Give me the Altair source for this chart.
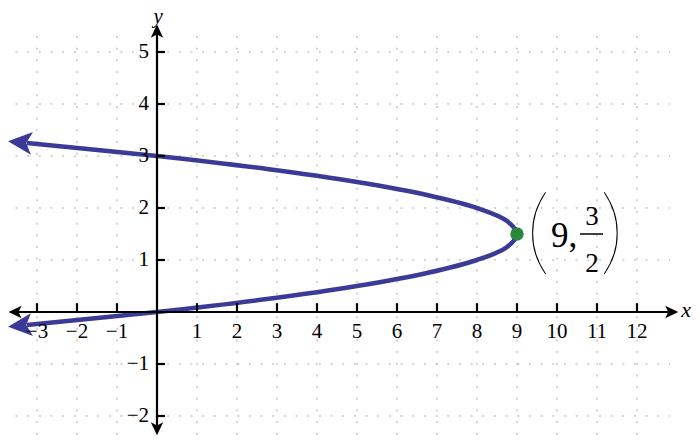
import altair as alt
import pandas as pd

# ---- data ----
# parabola x = -4y^2 + 12y
curve_y = [-0.25, 0, 0.25, 0.5, 0.75, 1, 1.25, 1.5, 1.75, 2, 2.25, 2.5, 2.75, 3, 3.25]
curve_x = [-3.25, 0, 2.75, 5, 6.75, 8, 8.75, 9, 8.75, 8, 6.75, 5, 2.75, 0, -3.25]
# arrow heads at the two ends of the curve
curve_arrow_x = [-3.41, -3.41]
curve_arrow_y = [3.261, -0.261]
curve_arrow_angle = [5.2, 354.8]
# vertex
vertex_x = [9]
vertex_y = [1.5]
# grid / ticks
grid_x = [-3, -2, -1, 1, 2, 3, 4, 5, 6, 7, 8, 9, 10, 11, 12]
grid_y = [-2, -1, 1, 2, 3, 4, 5]
x_tick_labels = ["−3", "−2", "−1", "1", "2", "3", "4", "5", "6", "7", "8", "9", "10", "11", "12"]
y_tick_labels = ["−2", "−1", "1", "2", "3", "4", "5"]
# axis arrows
axis_arrow_x = [12.86, -3.54, 0, 0]
axis_arrow_y = [0, 0, 5.394, -2.24]
axis_arrow_angle = [180, 0, 90, 270]

X_DOMAIN = [-3.725, 13.375]
Y_DOMAIN = [-2.42308, 5.84615]

xs = alt.Scale(domain=X_DOMAIN, nice=False, zero=False)
ys = alt.Scale(domain=Y_DOMAIN, nice=False, zero=False)
FONT = "'Liberation Serif', 'Times New Roman', Times, serif"
PAREN_FONT = "Lato, 'Liberation Serif', serif"
ARROW = "M -1 0 L 0.9 -0.9 L 0.45 0 L 0.9 0.9 Z"
CURVE_COLOR = "#3b3b97"


def X(f):
    return alt.X(f, type="quantitative", scale=xs, axis=None)


def Y(f):
    return alt.Y(f, type="quantitative", scale=ys, axis=None)


# grid
vgrid_df = pd.DataFrame({"x": grid_x, "y1": [5.308] * len(grid_x), "y2": [-2.6] * len(grid_x)})
hgrid_df = pd.DataFrame({"y": grid_y, "x1": [-3.83] * len(grid_y), "x2": [12.825] * len(grid_y)})
vgrid = alt.Chart(vgrid_df).mark_rule(color="#a8a8a8", strokeWidth=1, strokeDash=[2, 9.67]).encode(
    x=X("x"), y=Y("y1"), y2="y2")
hgrid = alt.Chart(hgrid_df).mark_rule(color="#a8a8a8", strokeWidth=1, strokeDash=[2, 9.67]).encode(
    y=Y("y"), x=X("x1"), x2="x2")

# curve
curve_df = pd.DataFrame({"x": curve_x, "y": curve_y, "i": list(range(len(curve_x)))})
curve = alt.Chart(curve_df).mark_line(color=CURVE_COLOR, strokeWidth=4.5, interpolate="catmull-rom",
                                      strokeCap="butt").encode(
    x=X("x"), y=Y("y"), order="i:Q")
carrow_df = pd.DataFrame({"x": curve_arrow_x, "y": curve_arrow_y, "a": curve_arrow_angle})
carrows = alt.Chart(carrow_df).mark_point(shape=ARROW, filled=True, color=CURVE_COLOR, size=640,
                                          opacity=1, strokeWidth=0).encode(
    x=X("x"), y=Y("y"), angle=alt.Angle("a:Q", scale=None))

# axes
xaxis_df = pd.DataFrame({"x1": [-3.5], "x2": [12.85], "y": [0]})
yaxis_df = pd.DataFrame({"y1": [-2.25], "y2": [5.38], "x": [0]})
xaxis = alt.Chart(xaxis_df).mark_rule(color="black", strokeWidth=2.2).encode(x=X("x1"), x2="x2", y=Y("y"))
yaxis = alt.Chart(yaxis_df).mark_rule(color="black", strokeWidth=2.2).encode(y=Y("y1"), y2="y2", x=X("x"))
xticks_df = pd.DataFrame({"x": grid_x, "y1": [0] * len(grid_x), "y2": [0.17] * len(grid_x)})
yticks_df = pd.DataFrame({"y": grid_y, "x1": [0] * len(grid_y), "x2": [0.2] * len(grid_y)})
xticks = alt.Chart(xticks_df).mark_rule(color="black", strokeWidth=2.2).encode(x=X("x"), y=Y("y1"), y2="y2")
yticks = alt.Chart(yticks_df).mark_rule(color="black", strokeWidth=2.2).encode(y=Y("y"), x=X("x1"), x2="x2")
aarrow_df = pd.DataFrame({"x": axis_arrow_x, "y": axis_arrow_y, "a": axis_arrow_angle})
aarrows = alt.Chart(aarrow_df).mark_point(shape=ARROW, filled=True, color="black", size=190,
                                          opacity=1, strokeWidth=0).encode(
    x=X("x"), y=Y("y"), angle=alt.Angle("a:Q", scale=None))

# vertex point
vertex = alt.Chart(pd.DataFrame({"x": vertex_x, "y": vertex_y})).mark_circle(
    size=180, color="#2a8540", opacity=1).encode(x=X("x"), y=Y("y"))

# tick labels
xlab_df = pd.DataFrame({"x": grid_x, "y": [-0.385] * len(grid_x), "t": x_tick_labels})
ylab_df = pd.DataFrame({"y": grid_y, "x": [-0.2] * len(grid_y), "t": y_tick_labels})
xlabels = alt.Chart(xlab_df).mark_text(font=FONT, fontSize=21, color="black", align="center",
                                       baseline="middle").encode(x=X("x"), y=Y("y"), text="t:N")
ylabels = alt.Chart(ylab_df).mark_text(font=FONT, fontSize=21, color="black", align="right",
                                       baseline="middle").encode(x=X("x"), y=Y("y"), text="t:N")

# axis titles
xtitle = alt.Chart(pd.DataFrame({"x": [13.35], "y": [-0.096], "t": ["x"]})).mark_text(
    font=FONT, fontSize=22, fontStyle="italic", align="right", baseline="alphabetic").encode(
    x=X("x"), y=Y("y"), text="t:N")
ytitle = alt.Chart(pd.DataFrame({"x": [0.03], "y": [5.56], "t": ["y"]})).mark_text(
    font=FONT, fontSize=21, fontStyle="italic", align="center", baseline="alphabetic").encode(
    x=X("x"), y=Y("y"), text="t:N")

# annotation (9, 3/2)
paren_df = pd.DataFrame({"x": [9.525, 11.375], "y": [0.95, 0.95], "t": ["(", ")"]})
parens = alt.Chart(paren_df).mark_text(font=PAREN_FONT, fontSize=95, fontWeight=100, align="center",
                                       baseline="alphabetic", color="black").encode(
    x=X("x"), y=Y("y"), text="t:N")
nine = alt.Chart(pd.DataFrame({"x": [9.85], "y": [1.25], "t": ["9,"]})).mark_text(
    font=FONT, fontSize=35, align="left", baseline="alphabetic", color="black").encode(
    x=X("x"), y=Y("y"), text="t:N")
frac = alt.Chart(pd.DataFrame({"x": [10.875, 10.875], "y": [1.673, 0.769], "t": ["3", "2"]})).mark_text(
    font=FONT, fontSize=27, align="center", baseline="alphabetic", color="black").encode(
    x=X("x"), y=Y("y"), text="t:N")
fbar = alt.Chart(pd.DataFrame({"x1": [10.575], "x2": [11.15], "y": [1.5]})).mark_rule(
    color="black", strokeWidth=1.5).encode(x=X("x1"), x2="x2", y=Y("y"))

chart = alt.layer(
    vgrid, hgrid, curve, carrows, xaxis, yaxis, xticks, yticks, aarrows, vertex,
    xlabels, ylabels, xtitle, ytitle, parens, nine, frac, fbar
).properties(
    width=684, height=430, autosize=alt.AutoSizeParams(type="none"), padding=0,
    background="white"
).configure_view(strokeWidth=0)

chart.save("out.html", embed_options={"renderer": "svg", "actions": False})
